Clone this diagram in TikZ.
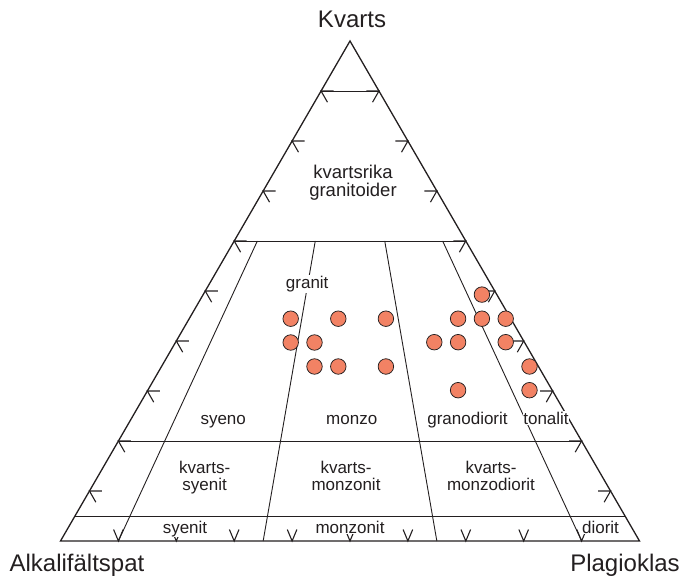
\documentclass[tikz,border=0pt]{standalone}
\usepackage{fontspec}
\setmainfont{Liberation Sans}
\usetikzlibrary{calc}
\definecolor{dotfill}{RGB}{242,130,100}
\definecolor{ink}{RGB}{35,31,32}
\begin{document}
\begin{tikzpicture}[x=1pt,y=-1pt,
  edge/.style={draw=ink,line width=1.3pt,line join=miter},
  divider/.style={draw=ink,line width=0.9pt},
  tickmark/.style={draw=ink,line width=1.1pt},
  dot/.style={circle,draw=ink,line width=0.75pt,fill=dotfill,minimum size=15.5pt,inner sep=0pt},
  field/.style={font=\fontsize{17}{16.5}\selectfont,text=ink,fill=white,inner sep=0.8pt,align=center,anchor=base},
  corner/.style={font=\fontsize{24}{26}\selectfont,text=ink,inner sep=0pt,anchor=base}]
\useasboundingbox (0,0) rectangle (680,577);
\coordinate (A) at (60.5,541);
\coordinate (P) at (639.5,541);
\coordinate (Q) at (350,41);
\foreach \t in {1,...,9}{
  \coordinate (l\t) at ($(A)!\t/10!(Q)$);
  \coordinate (r\t) at ($(P)!\t/10!(Q)$);
  \coordinate (b\t) at ($(A)!\t/10!(P)$);
}
\coordinate (l05) at ($(A)!0.05!(Q)$);
\coordinate (r05) at ($(P)!0.05!(Q)$);
\coordinate (b35) at ($(A)!0.35!(P)$);
\coordinate (b65) at ($(A)!0.65!(P)$);
\coordinate (t10) at ($(b1)!0.6!(Q)$);
\coordinate (t35) at ($(b35)!0.6!(Q)$);
\coordinate (t65) at ($(b65)!0.6!(Q)$);
\coordinate (t90) at ($(b9)!0.6!(Q)$);
% horizontal dividers
\draw[divider] (l9) -- (r9);
\draw[divider] (l6) -- (r6);
\draw[divider] (l2) -- (r2);
\draw[divider] (l05) -- (r05);
% dividers towards Q
\draw[divider] (t10) -- (b1);
\draw[divider] (t35) -- (b35);
\draw[divider] (t65) -- (b65);
\draw[divider] (t90) -- (b9);
% triangle
\draw[edge] (A) -- (P) -- (Q) -- cycle;
% tick marks
\foreach \t in {1,...,9}{
  \draw[tickmark] ([shift={(12.5,0)}]l\t) -- (l\t) -- ([shift={(6.4,11.2)}]l\t);
  \draw[tickmark] ([shift={(-12.5,0)}]r\t) -- (r\t) -- ([shift={(-6.4,11.2)}]r\t);
  \draw[tickmark] ([shift={(-4.8,-11.5)}]b\t) -- (b\t) -- ([shift={(4.8,-11.5)}]b\t);
}
% data points
\node[dot] (d1) at (290.7,318.7) {};
\node[dot] (d2) at (338.3,318.7) {};
\node[dot] (d3) at (385.9,318.7) {};
\node[dot] (d4) at (290.7,342.5) {};
\node[dot] (d5) at (314.5,342.5) {};
\node[dot] (d6) at (314.5,366.5) {};
\node[dot] (d7) at (338.3,366.5) {};
\node[dot] (d8) at (385.9,366.5) {};
\node[dot] (d9) at (481.9,294.6) {};
\node[dot] (d10) at (458.1,318.7) {};
\node[dot] (d11) at (481.9,318.7) {};
\node[dot] (d12) at (505.7,318.7) {};
\node[dot] (d13) at (434.3,342.2) {};
\node[dot] (d14) at (458.1,342.2) {};
\node[dot] (d15) at (505.7,342.2) {};
\node[dot] (d16) at (529.5,366.5) {};
\node[dot] (d17) at (458.1,390.2) {};
\node[dot] (d18) at (529.5,390.2) {};
% field labels (multi-line: base = last line)
\node[field,font=\fontsize{18.5}{17.5}\selectfont] (qrg) at (353,196.5) {kvartsrika\\granitoider};
\node[field] (gra) at (307.2,288.3) {granit};
\node[field] (sye) at (223.2,424) {syeno};
\node[field] (mon) at (351.7,424) {monzo};
\node[field] (grd) at (467.5,424) {granodiorit};
\node[field] (ton) at (546,424) {tonalit};
\node[field] (qsy) at (204.7,490) {kvarts-\\syenit};
\node[field] (qmz) at (346,490) {kvarts-\\monzonit};
\node[field] (qmd) at (491,490) {kvarts-\\monzodiorit};
\node[field] (syn) at (185,533) {syenit};
\node[field] (mzn) at (350,533) {monzonit};
\node[field] (dio) at (600.5,533) {diorit};
% corner labels
\node[corner] (cq) at (352,28) {Kvarts};
\node[corner] (ca) at (77,571) {Alkalifältspat};
\node[corner] (cp) at (625,571) {Plagioklas};
\end{tikzpicture}
\end{document}
